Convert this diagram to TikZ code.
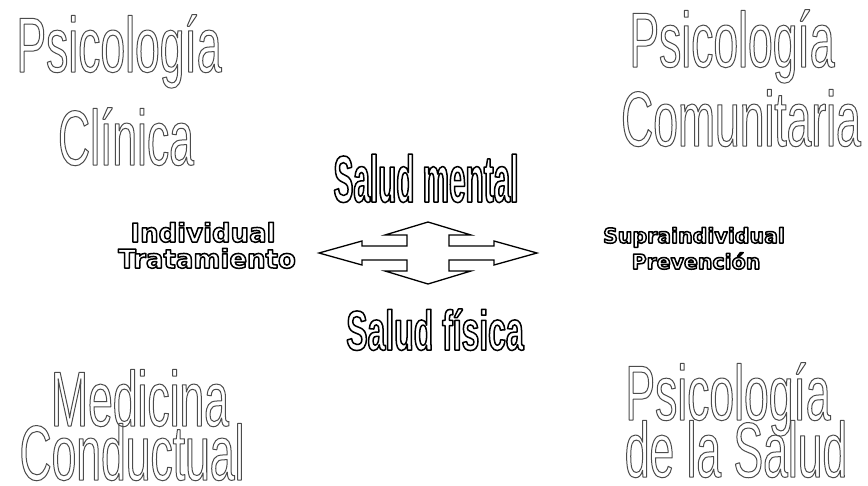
\documentclass[tikz,border=0pt]{standalone}
\usepackage{fontspec}
\setmainfont{Liberation Sans}
\newfontfamily\titlefont[FakeStretch=0.57]{Liberation Sans}
\newfontfamily\mentalfont[FakeStretch=0.45]{Liberation Sans}
\newfontfamily\fisicafont[FakeStretch=0.57]{Liberation Sans}
\newfontfamily\widefont{DejaVu Sans}
% hollow (stroked) text through the PDF text render mode
\newcommand\hollow[3]{\special{pdf:literal direct #2 w #1 RG 1 j 1 Tr}#3\special{pdf:literal direct 0 Tr}}
\newcommand\thin[1]{\hollow{0.3 0.3 0.3}{1.0}{#1}}
\newcommand\thick[1]{\hollow{0 0 0}{1.5}{#1}}
\tikzset{
  lbl/.style={inner sep=0pt, outer sep=0pt, anchor=base},
  title/.style={lbl, font=\titlefont\fontsize{78}{78}\selectfont},
  mental/.style={lbl, font=\mentalfont\bfseries\fontsize{66}{66}\selectfont},
  fisica/.style={lbl, font=\fisicafont\bfseries\fontsize{56}{56}\selectfont},
  wide/.style={lbl, font=\widefont\bfseries\fontsize{26}{26}\selectfont},
  widesmall/.style={lbl, font=\widefont\bfseries\fontsize{20.5}{20.5}\selectfont},
  arrowshape/.style={draw=black, line width=1.3pt, fill=white, line join=miter}
}
\begin{document}
\begin{tikzpicture}[x=1pt,y=-1pt]
\useasboundingbox[fill=white] (0,0) rectangle (868,485);
% corner titles
\node[title] (tl1) at (119,72)  {\thin{Psicología}};
\node[title] (tl2) at (126,165) {\thin{Clínica}};
\node[title] (tr1) at (732,67)  {\thin{Psicología}};
\node[title] (tr2) at (741,146) {\thin{Comunitaria}};
\node[title] (bl1) at (140,426) {\thin{Medicina}};
\node[title] (bl2) at (132,480) {\thin{Conductual}};
\node[title] (br1) at (728,420) {\thin{Psicología}};
\node[title] (br2) at (736,477) {\thin{de la Salud}};
% centre words
\node[mental] (sm) at (426,202) {\thick{Salud mental}};
\node[fisica] (sf) at (435,350) {\thick{Salud física}};
\node[wide] (ind) at (203,242) {\thick{Individual}};
\node[wide] (tra) at (207,268) {\thick{Tratamiento}};
\node[widesmall] (sup) at (694,243) {\thick{Supraindividual}};
\node[widesmall] (pre) at (696,269) {\thick{Prevención}};
% four-way arrow
\coordinate (c) at (428,253);
\draw[arrowshape] ([shift={(-109,0)}]c) -- ++(43,-12) -- ++(0,5) -- ++(45,0) -- ++(0,-11)
  -- ++(-22,0) -- ++(43,-13) -- ++(43,13) -- ++(-22,0) -- ++(0,11) -- ++(45,0) -- ++(0,-5)
  -- ++(43,12) -- ++(-43,12) -- ++(0,-5) -- ++(-45,0) -- ++(0,11) -- ++(22,0)
  -- ++(-43,13) -- ++(-43,-13) -- ++(22,0) -- ++(0,-11) -- ++(-45,0) -- ++(0,5) -- cycle;
\end{tikzpicture}
\end{document}
